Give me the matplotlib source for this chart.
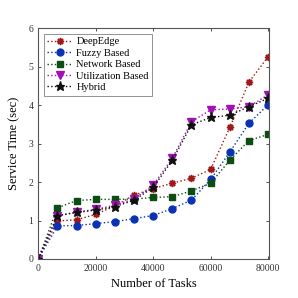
import matplotlib
matplotlib.use('Agg')
import matplotlib.pyplot as plt

plt.rcParams['font.family'] = ['Liberation Serif', 'DejaVu Serif']

# number of tasks
tasks = [0, 6667, 13333, 20000, 26667, 33333, 40000, 46667, 53333, 60000, 66667, 73333, 80000]

# service time (sec)
deepedge = [0.0, 0.99, 1.02, 1.16, 1.38, 1.66, 1.83, 1.97, 2.10, 2.33, 3.42, 4.60, 5.26]
fuzzy = [0.0, 0.86, 0.87, 0.92, 0.97, 1.05, 1.13, 1.31, 1.53, 2.07, 2.78, 3.53, 4.01]
network = [0.0, 1.33, 1.52, 1.55, 1.55, 1.56, 1.60, 1.62, 1.77, 1.97, 2.57, 3.08, 3.24]
utilization = [0.0, 1.12, 1.22, 1.29, 1.40, 1.56, 1.92, 2.62, 3.57, 3.88, 3.90, 3.96, 4.27]
hybrid = [0.0, 1.13, 1.21, 1.27, 1.36, 1.53, 1.86, 2.57, 3.49, 3.68, 3.74, 3.96, 4.18]

labels = ['DeepEdge', 'Fuzzy Based', 'Network Based', 'Utilization Based', 'Hybrid']
series = [deepedge, fuzzy, network, utilization, hybrid]
colors = ['#a01818', '#0a32b4', '#0b4d12', '#a010b4', '#111111']
markers = [(8, 1, 0), 'o', 's', 'v', '*']
sizes = [5, 5, 3.8, 6, 6.5]

fig = plt.figure(figsize=(2.98, 2.98), dpi=100)
ax = fig.add_axes([0.1285, 0.131, 0.775, 0.774])

for y, lab, c, m, s in zip(series, labels, colors, markers, sizes):
    ax.plot(tasks, y, linestyle=':', color=c, marker=m, markersize=s,
            markerfacecolor=c, markeredgecolor=c, linewidth=1.0, label=lab)

ax.set_xlim(0, 80400)
ax.set_ylim(0, 6)
ax.set_xticks([0, 20000, 40000, 60000, 80000])
ax.set_yticks([0, 1, 2, 3, 4, 5, 6])
ax.tick_params(labelsize=7, direction='in', length=2.5, width=0.6, colors='#333333', top=True, right=True)
for sp in ax.spines.values():
    sp.set_color('#555555')
    sp.set_linewidth(0.8)
ax.set_xlabel('Number of Tasks', fontsize=9, labelpad=4)
ax.set_ylabel('Service Time (sec)', fontsize=9, labelpad=6)

leg = ax.legend(loc='upper left', fontsize=7.5, frameon=True, fancybox=False,
                edgecolor='#777777', handlelength=2.4, borderpad=0.35,
                labelspacing=0.2, handletextpad=0.4, borderaxespad=0.5)
leg.get_frame().set_linewidth(0.7)

fig.savefig('out.png', dpi=100)
